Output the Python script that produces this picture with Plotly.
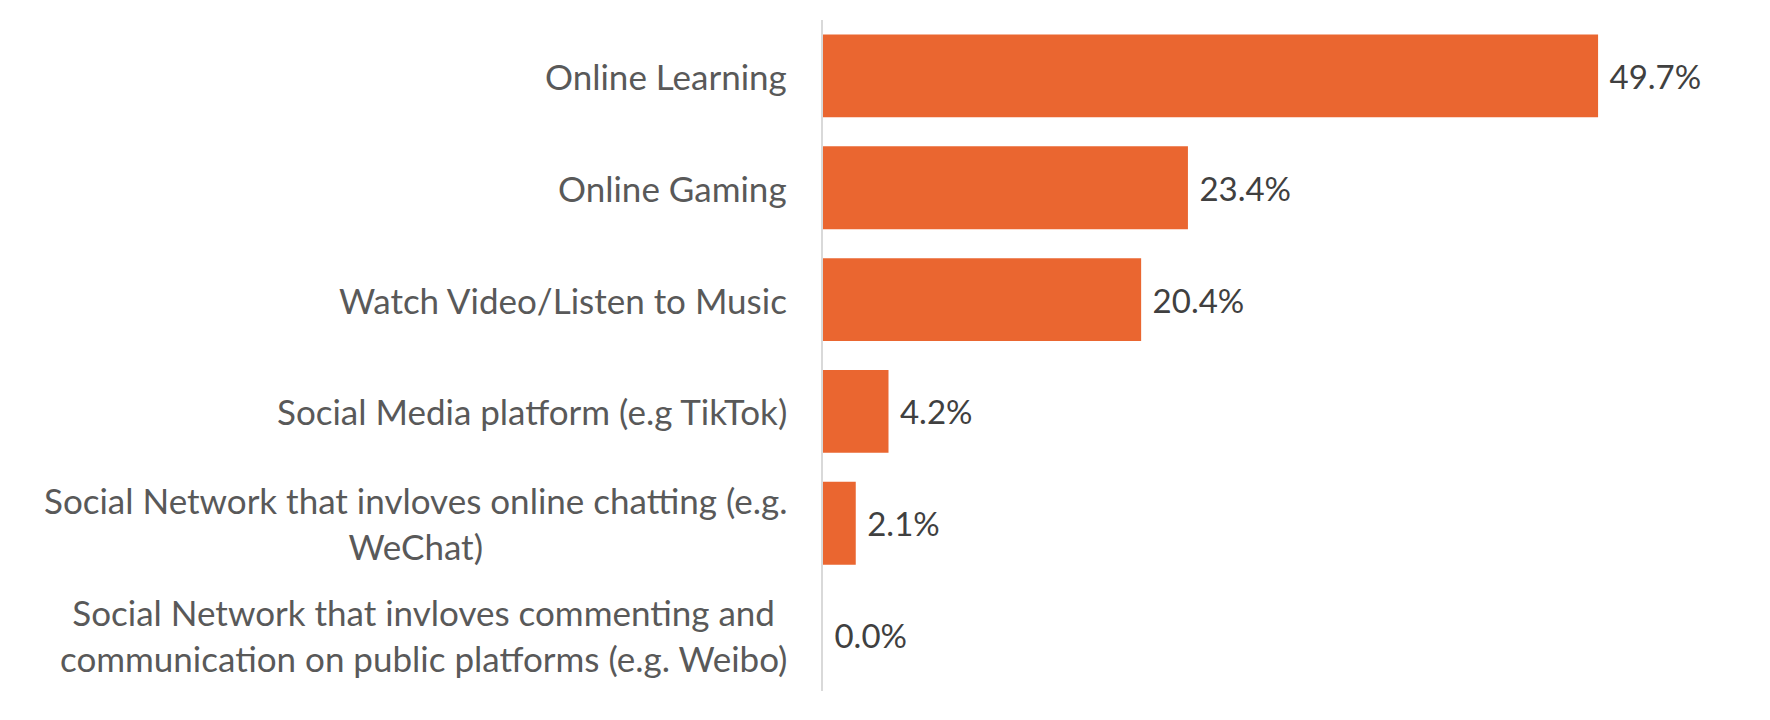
import plotly.graph_objects as go

categories = [
    "Online Learning",
    "Online Gaming",
    "Watch Video/Listen to Music",
    "Social Media platform (e.g TikTok)",
    "Social Network that invloves online chatting (e.g.<br>WeChat)",
    "Social Network that invloves commenting and<br>communication on public platforms (e.g. Weibo)",
]
shares = [49.7, 23.4, 20.4, 4.2, 2.1, 0.0]

BAR_COLOR = '#EA6630'
FONT = 'Lato'

fig = go.Figure(go.Bar(
    x=shares, y=categories, orientation='h',
    marker=dict(color=BAR_COLOR, line=dict(width=0)),
    texttemplate='\u00a0%{x:.1f}%', textposition='outside',
    textfont=dict(family=FONT, size=33, color='#404040'),
    cliponaxis=False, hoverinfo='skip',
))

# category labels as annotations: block right-aligned, lines centred
annotations = []
for cat in categories:
    annotations.append(dict(
        x=0, xref='paper', y=cat, yref='y',
        text=cat, showarrow=False,
        xanchor='right', align='center', xshift=-34,
        font=dict(family=FONT, size=35, color='#595959'),
    ))

# page body has an 8px margin, so the figure is sized to fit inside it
fig.update_layout(
    width=1754, height=704,
    margin=dict(l=815, r=22, t=12, b=21, autoexpand=False),
    paper_bgcolor='white', plot_bgcolor='white',
    bargap=0.26, showlegend=False,
    annotations=annotations,
    xaxis=dict(range=[0, 58.8], visible=False, fixedrange=True, automargin=False),
    yaxis=dict(
        categoryorder='array', categoryarray=categories, autorange='reversed',
        showticklabels=False, showgrid=False, zeroline=False, automargin=False,
        showline=True, linecolor='#D9D9D9', linewidth=2, ticks='',
    ),
)

fig.write_html("out.html")
